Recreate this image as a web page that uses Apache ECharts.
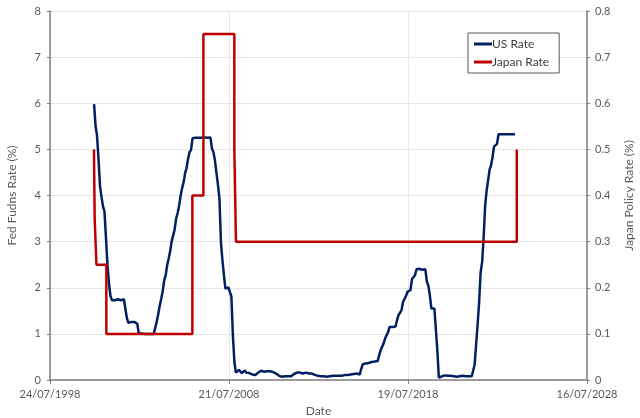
<!DOCTYPE html>
<html>
<head>
<meta charset="utf-8">
<script src="https://cdn.jsdelivr.net/npm/echarts@6/dist/echarts.min.js"></script>
<style>html,body{margin:0;padding:0;background:#fff}#c{width:640px;height:418px}</style>
</head>
<body>
<div id="c"></div>
<script>
// X-axis tick labels (dates)
var xTickStart = '1998-07-24';
var xTickEnd = '2028-07-16';
var xTickIntervalDays = 3650;

// US effective Fed funds rate, monthly from Jan 2001
var usStart = '2001-01';
var usRate = [
  5.98,5.49,5.31,4.80,4.21,3.97,3.77,3.65,3.07,2.49,2.09,1.82,
  1.73,1.74,1.73,1.75,1.75,1.75,1.73,1.74,1.75,1.75,1.34,1.24,
  1.24,1.26,1.25,1.26,1.26,1.22,1.01,1.03,1.01,1.01,1.00,0.98,
  1.00,1.01,1.00,1.00,1.00,1.03,1.26,1.43,1.61,1.76,1.93,2.16,
  2.28,2.50,2.63,2.79,3.00,3.04,3.26,3.50,3.62,3.78,4.00,4.16,
  4.29,4.49,4.59,4.79,4.94,4.99,5.24,5.25,5.25,5.25,5.25,5.24,
  5.25,5.26,5.26,5.25,5.25,5.25,5.26,5.02,4.94,4.76,4.49,4.24,
  3.94,2.98,2.61,2.28,1.98,2.00,2.01,2.00,1.81,0.97,0.39,0.16,
  0.15,0.22,0.18,0.15,0.18,0.21,0.16,0.16,0.15,0.12,0.12,0.12,
  0.11,0.13,0.16,0.20,0.20,0.18,0.18,0.19,0.19,0.19,0.19,0.18,
  0.17,0.16,0.14,0.10,0.09,0.09,0.07,0.10,0.08,0.07,0.08,0.07,
  0.08,0.10,0.13,0.14,0.16,0.16,0.16,0.13,0.14,0.16,0.16,0.16,
  0.14,0.15,0.14,0.15,0.11,0.09,0.09,0.08,0.08,0.09,0.08,0.09,
  0.07,0.07,0.08,0.09,0.09,0.10,0.09,0.09,0.09,0.09,0.09,0.12,
  0.11,0.11,0.11,0.12,0.12,0.13,0.13,0.14,0.14,0.12,0.12,0.24,
  0.34,0.38,0.36,0.37,0.37,0.38,0.39,0.40,0.40,0.40,0.41,0.54,
  0.65,0.66,0.79,0.90,0.91,1.04,1.15,1.16,1.15,1.15,1.16,1.30,
  1.41,1.42,1.51,1.69,1.70,1.82,1.91,1.91,1.95,2.19,2.20,2.27,
  2.40,2.40,2.41,2.42,2.39,2.38,2.40,2.13,2.04,1.83,1.55,1.55,
  1.55,1.58,0.65,0.05,0.05,0.08,0.09,0.10,0.09,0.09,0.09,0.09,
  0.09,0.08,0.07,0.07,0.06,0.08,0.10,0.09,0.08,0.08,0.08,0.08,
  0.08,0.08,0.20,0.33,0.77,1.21,1.68,2.33,2.56,3.08,3.78,4.10,
  4.33,4.57,4.65,4.83,5.06,5.08,5.12,5.33,5.33,5.33,5.33,5.33,
  5.33,5.33,5.33,5.33,5.33,5.33,5.33
];

// Japan policy rate, step changes
var japanDates = ['2001-01-05','2001-01-20','2001-02-25','2001-09-15','2006-07-05','2007-02-15','2008-11-07','2008-12-10','2024-08-14'];
var japanRate = [0.5,0.35,0.25,0.1,0.4,0.75,0.5,0.3,0.5];

function toMs(s){var p=s.split('-');return Date.UTC(+p[0],+p[1]-1,p[2]?+p[2]:1);}
function fmt(v){var d=new Date(v);function z(n){return (n<10?'0':'')+n;}return z(d.getUTCDate())+'/'+z(d.getUTCMonth()+1)+'/'+d.getUTCFullYear();}

var sp = usStart.split('-');
var usData = usRate.map(function(v,i){return [Date.UTC(+sp[0], +sp[1]-1+i, 8), v];});
var jpData = japanRate.map(function(v,i){return [toMs(japanDates[i]), v];});

var DAY = 86400000;
var font = 'Lato';
var grey = '#595959';

var chart = echarts.init(document.getElementById('c'), null, {renderer:'canvas'});
chart.setOption({
  animation:false,
  backgroundColor:'#fff',
  textStyle:{fontFamily:font},
  grid:{left:50,right:53,top:11,bottom:38,containLabel:false,outerBoundsMode:'none'},
  legend:{
    orient:'vertical', left:468, top:33, width:87,
    data:['US Rate','Japan Rate'],
    backgroundColor:'#fff', borderColor:'#595959', borderWidth:1,
    padding:[5,10,5,6], itemGap:6, itemWidth:18, itemHeight:3,
    icon:'rect',
    textStyle:{fontFamily:font,fontSize:12,color:'#404040',padding:[0,0,0,-5]}
  },
  xAxis:{
    type:'value', min:toMs(xTickStart), max:toMs(xTickEnd), interval:xTickIntervalDays*DAY,
    name:'Date', nameLocation:'middle', nameGap:23,
    nameTextStyle:{fontFamily:font,fontSize:12,color:grey},
    axisLine:{lineStyle:{color:'#7f7f7f',width:1.5}},
    axisTick:{show:true,length:4,lineStyle:{color:'#7f7f7f'}},
    axisLabel:{formatter:fmt,fontFamily:font,fontSize:11,color:grey,margin:9},
    splitLine:{show:true,lineStyle:{color:'#e6e6e6',width:1}}
  },
  yAxis:[{
    type:'value', min:0, max:8, interval:1, position:'left',
    name:'Fed Fudns Rate (%)', nameLocation:'middle', nameGap:32,
    nameTextStyle:{fontFamily:font,fontSize:12,color:grey},
    axisLine:{show:true,lineStyle:{color:'#7f7f7f',width:1.5}},
    axisTick:{show:true,length:3,lineStyle:{color:'#7f7f7f'}},
    axisLabel:{fontFamily:font,fontSize:11,color:grey,margin:9},
    splitLine:{show:true,lineStyle:{color:'#e6e6e6',width:1}}
  },{
    type:'value', min:0, max:0.8, interval:0.1, position:'right',
    name:'Japan Policy Rate (%)', nameLocation:'middle', nameGap:36, nameRotate:90,
    nameTextStyle:{fontFamily:font,fontSize:12,color:grey},
    axisLine:{show:true,lineStyle:{color:'#7f7f7f',width:1.5}},
    axisTick:{show:true,length:3,lineStyle:{color:'#7f7f7f'}},
    axisLabel:{fontFamily:font,fontSize:11,color:grey,margin:8},
    splitLine:{show:false}
  }],
  series:[{
    name:'US Rate', type:'line', data:usData, yAxisIndex:0,
    showSymbol:false, symbol:'none',
    lineStyle:{color:'#002060',width:2.5}, itemStyle:{color:'#002060'}
  },{
    name:'Japan Rate', type:'line', data:jpData, yAxisIndex:1, step:'end',
    showSymbol:false, symbol:'none',
    lineStyle:{color:'#C00000',width:2.5}, itemStyle:{color:'#C00000'}
  }]
});
</script>
</body>
</html>
